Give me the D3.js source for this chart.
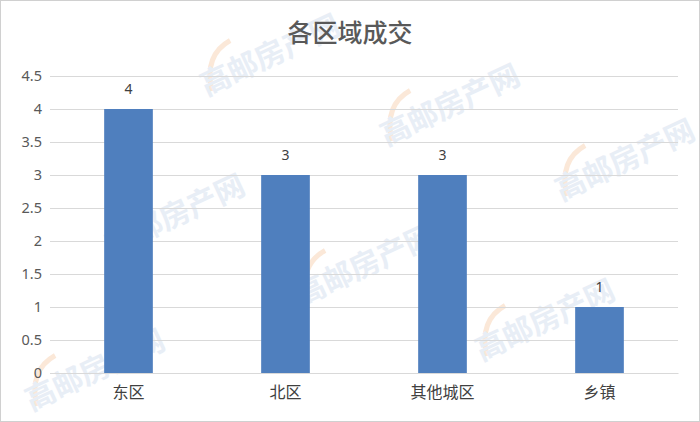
<!DOCTYPE html>
<html><head><meta charset="utf-8">
<script src="https://cdn.jsdelivr.net/npm/d3@7"></script>
<style>body{margin:0;background:#fff}svg{display:block}</style>
</head><body>
<svg id="c" width="700" height="422"></svg>
<script>
const categories = ["东区", "北区", "其他城区", "乡镇"];
const values = [4, 3, 3, 1];
const yTicks = [0, 0.5, 1, 1.5, 2, 2.5, 3, 3.5, 4, 4.5];
const title = "各区域成交";
const watermarkText = "高邮房产网";
const watermarks = [[270,55],[450,105],[625,160],[175,215],[365,265],[545,320],[95,370]];

const svg = d3.select("#c");
const W = 700, H = 422;
const font = "'Microsoft YaHei','Noto Sans CJK SC',sans-serif";
svg.append("rect").attr("x",0.5).attr("y",0.5).attr("width",W-1).attr("height",H-1)
  .attr("fill","#fff").attr("stroke","#d0d0d0");

// faint watermarks
const wm = svg.append("g");
watermarks.forEach(([x,y])=>{
  const g = wm.append("g").attr("transform",`translate(${x},${y}) rotate(-25)`);
  g.append("path").attr("d","M-68,8 Q-60,-28 -30,-30").attr("fill","none")
    .attr("stroke","#fbe8d8").attr("stroke-width",5);
  g.append("text").attr("text-anchor","middle").attr("dy","0.35em")
    .attr("font-family",font).attr("font-size",30).attr("font-weight","bold")
    .attr("fill","#e8eef6").text(watermarkText);
});

const m = {l:50, r:22, t:76, b:49};
const x = d3.scaleBand().domain(categories).range([m.l, W-m.r]).paddingInner(0.69).paddingOuter(0.345);
const y = d3.scaleLinear().domain([0,4.5]).range([H-m.b, m.t]);

const grid = svg.append("g");
grid.selectAll("line").data(yTicks).join("line")
  .attr("x1",m.l).attr("x2",W-m.r)
  .attr("y1",d=>Math.round(y(d))+0.5).attr("y2",d=>Math.round(y(d))+0.5)
  .attr("stroke","#d9d9d9").attr("stroke-width",1);

const yAxis = svg.append("g").attr("transform",`translate(${m.l-8},0)`)
  .call(d3.axisLeft(y).tickValues(yTicks).tickSize(0).tickPadding(0).tickFormat(d=>String(d)));
yAxis.select(".domain").remove();
yAxis.selectAll("text").attr("font-family","'Noto Sans',sans-serif").attr("font-size",14.5).attr("fill","#595959");

const xAxis = svg.append("g").attr("transform",`translate(0,${H-m.b})`)
  .call(d3.axisBottom(x).tickSize(0).tickPadding(14));
xAxis.select(".domain").attr("stroke","#d9d9d9");
xAxis.selectAll("text").attr("font-family",font).attr("font-size",16).attr("fill","#404040");

svg.append("g").selectAll("rect").data(values).join("rect")
  .attr("x",(d,i)=>x(categories[i])).attr("width",x.bandwidth())
  .attr("y",d=>y(d)).attr("height",d=>y(0)-y(d)).attr("fill","#4f7fbe");

svg.append("g").selectAll("text").data(values).join("text")
  .attr("x",(d,i)=>x(categories[i])+x.bandwidth()/2).attr("y",d=>y(d)-15)
  .attr("text-anchor","middle").attr("font-family","'Noto Sans',sans-serif").attr("font-size",14)
  .attr("fill","#404040").text(d=>d);

svg.append("text").attr("x",W/2).attr("y",42).attr("text-anchor","middle")
  .attr("font-family",font).attr("font-size",25).attr("font-weight","500").attr("fill","#595959").text(title);
</script>
</body></html>
